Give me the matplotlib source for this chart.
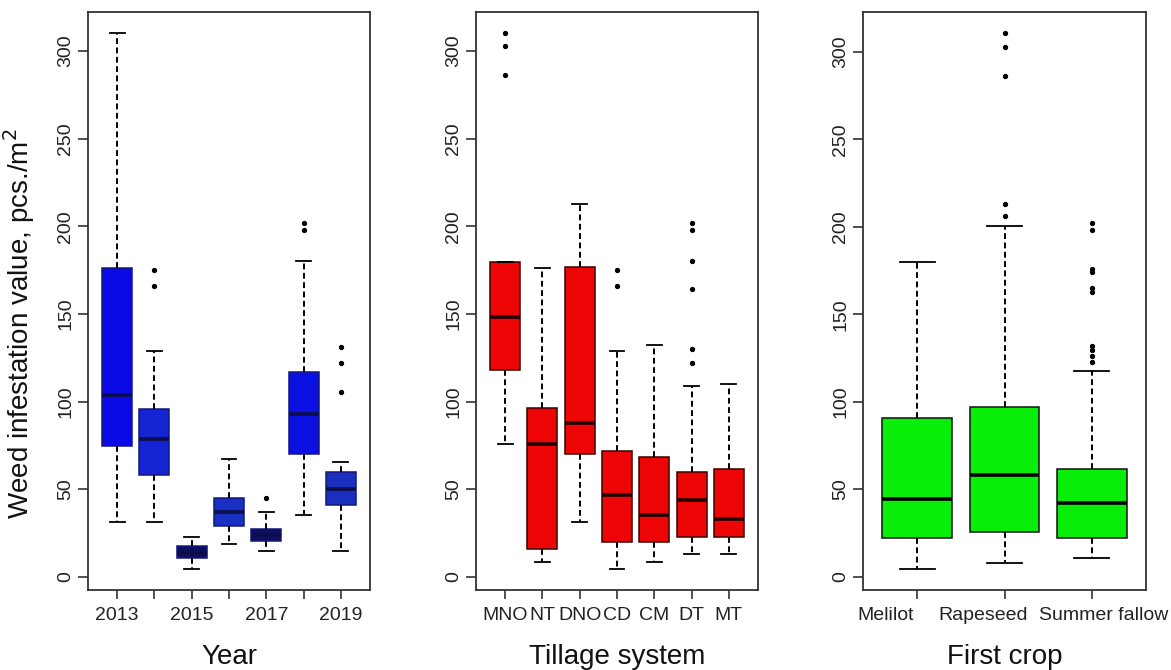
import matplotlib
matplotlib.use("Agg")
import matplotlib.pyplot as plt
from matplotlib.transforms import ScaledTranslation

plt.rcParams['font.family'] = ['Liberation Sans', 'DejaVu Sans']

# --- Year panel ---
years = ["2013", "2014", "2015", "2016", "2017", "2018", "2019"]
year_ticklabels = ["2013", "", "2015", "", "2017", "", "2019"]
year_whislo = [31, 31, 4.7, 19, 14.5, 35, 14.5]
year_q1 = [74.6, 58, 10.8, 29, 20.6, 70, 41]
year_med = [104, 78.5, 13.7, 37, 24, 93, 50]
year_q3 = [176, 96, 17.7, 45, 27.5, 117, 60]
year_whishi = [310, 129, 23, 67, 37, 180, 65.5]
year_fliers = [[], [175, 166], [], [], [45], [202, 198], [131, 122, 105.5]]
year_colors = ["#0a0ae6", "#1424d2", "#0c0e5e", "#1830c2", "#0e0f62", "#0a10e2", "#1a2fbe"]

# --- Tillage panel ---
tillage = ["MNO", "NT", "DNO", "CD", "CM", "DT", "MT"]
till_whislo = [76, 8.3, 31, 4.7, 8.6, 13, 13]
till_q1 = [118, 16, 70, 19.6, 19.6, 23, 22.6]
till_med = [148, 76, 88, 46.6, 35, 43.7, 33]
till_q3 = [179.4, 96.5, 176.7, 71.7, 68.5, 60, 61.6]
till_whishi = [179.4, 176, 212.6, 129, 132, 109, 110]
till_fliers = [[310, 302.6, 286], [], [], [175, 166], [], [202, 198, 180, 164, 130, 122], []]
till_colors = ["#ee0606"] * 7

# --- First crop panel ---
crops = ["Melilot", "Rapeseed", "Summer fallow"]
crop_whislo = [4.7, 7.9, 10.8]
crop_q1 = [22.3, 25.8, 22.3]
crop_med = [44.7, 58.4, 42.2]
crop_q3 = [91, 97, 61.6]
crop_whishi = [180, 200.5, 117.6]
crop_fliers = [[], [310.5, 302.6, 286, 213, 206],
               [202, 198, 176, 174, 165, 163, 132, 129.6, 126, 122.7]]
crop_colors = ["#08ee08"] * 3
crop_label_shift_px = [-32, -21, 12]   # labels in the original sit off their ticks


def draw_panel(ax, ticklabels, whislo, q1, med, q3, whishi, fliers,
               colors, edge, medc, xlabel):
    n = len(med)
    stats = []
    for i in range(n):
        stats.append(dict(whislo=whislo[i], q1=q1[i], med=med[i], q3=q3[i],
                          whishi=whishi[i], fliers=fliers[i]))
    bp = ax.bxp(stats, positions=list(range(1, n + 1)), widths=0.8,
                capwidths=0.4, patch_artist=True,
                boxprops=dict(edgecolor=edge, linewidth=1.1),
                whiskerprops=dict(color='black', linewidth=1.4, linestyle=(0, (3, 1.8))),
                capprops=dict(color='black', linewidth=1.3),
                medianprops=dict(color=medc, linewidth=2.6),
                flierprops=dict(marker='o', markersize=2.8, markerfacecolor='black',
                                markeredgecolor='black'))
    for patch, c in zip(bp['boxes'], colors):
        patch.set_facecolor(c)

    allv = whislo + whishi + [v for f in fliers for v in f]
    lo, hi = min(allv), max(allv)
    pad = 0.04 * (hi - lo)
    ax.set_ylim(lo - pad, hi + pad)
    ax.set_xlim(0.5 - 0.04 * n, n + 0.5 + 0.04 * n)

    ax.set_yticks([0, 50, 100, 150, 200, 250, 300])
    ax.set_xticks(list(range(1, n + 1)))
    ax.set_xticklabels(ticklabels)
    ax.tick_params(axis='y', labelrotation=90, length=7, width=1.1, pad=3,
                   labelsize=14, colors='#222222')
    ax.tick_params(axis='x', length=6.5, width=1.1, pad=6,
                   labelsize=14, colors='#222222')
    for lab in ax.get_yticklabels():
        lab.set_va('center')
    for sp in ax.spines.values():
        sp.set_linewidth(1.3)
        sp.set_color('#333333')
    ax.set_xlabel(xlabel, fontsize=20, color='#111111')
    ax.xaxis.set_label_coords(0.5, -0.094)


fig = plt.figure(figsize=(11.71, 6.7), dpi=100)
W, H = 1171.0, 670.0
top_px, bot_px = 12, 590
ax1 = fig.add_axes([88 / W, 1 - bot_px / H, 282 / W, (bot_px - top_px) / H])
ax2 = fig.add_axes([476 / W, 1 - bot_px / H, 282 / W, (bot_px - top_px) / H])
ax3 = fig.add_axes([863 / W, 1 - bot_px / H, 283 / W, (bot_px - top_px) / H])

draw_panel(ax1, year_ticklabels, year_whislo, year_q1, year_med, year_q3,
           year_whishi, year_fliers, year_colors, '#16167a', '#0d0d48', 'Year')
draw_panel(ax2, tillage, till_whislo, till_q1, till_med, till_q3,
           till_whishi, till_fliers, till_colors, '#3a0000', '#220000', 'Tillage system')
draw_panel(ax3, crops, crop_whislo, crop_q1, crop_med, crop_q3,
           crop_whishi, crop_fliers, crop_colors, '#111111', '#000000', 'First crop')

for lab, dx in zip(ax3.get_xticklabels(), crop_label_shift_px):
    lab.set_transform(lab.get_transform() + ScaledTranslation(dx / 100.0, 0, fig.dpi_scale_trans))

ax1.set_ylabel('Weed infestation value, pcs./m$^2$', fontsize=20, color='#111111')
ax1.yaxis.set_label_coords(-0.18, 0.46)

fig.savefig('out.png', dpi=100)
